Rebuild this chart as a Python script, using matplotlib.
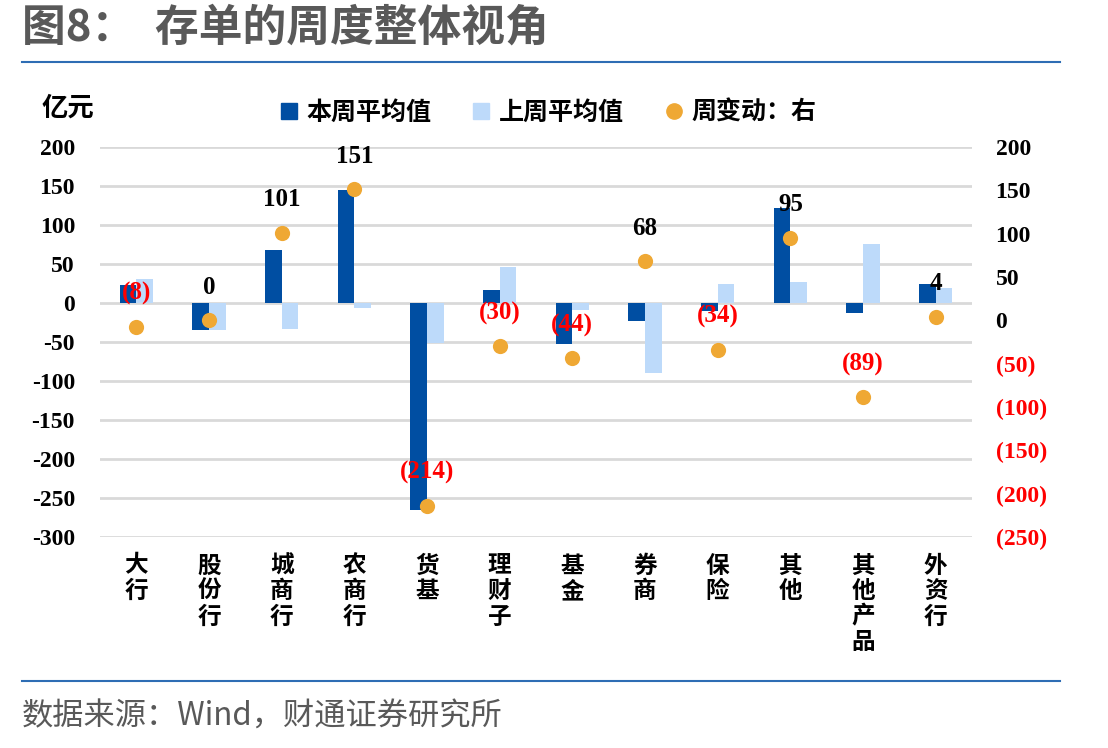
import numpy as np
import matplotlib.pyplot as plt
from matplotlib.lines import Line2D

plt.rcParams['axes.unicode_minus'] = False

# --- dane ---
categories = ["大行", "股份行", "城商行", "农商行", "货基", "理财子",
              "基金", "券商", "保险", "其他", "其他产品", "外资行"]
this_week = [23, -35, 68, 145, -265, 17, -52, -23, -10, 122, -13, 24]
last_week = [31, -34, -33, -6, -51, 46, -9, -90, 24, 27, 76, 19]
weekly_change = [-8, 0, 101, 151, -214, -30, -44, 68, -34, 95, -89, 4]

left_ticks = list(range(-300, 201, 50))
right_ticks = list(range(-250, 201, 50))

# --- kolory / czcionki ---
DARK = "#004EA2"
LIGHT = "#BDDAFA"
ORANGE = "#EFA834"
GRID = "#D9D9D9"
SERIF = "Liberation Serif"
CJK = ["Noto Sans CJK SC", "DejaVu Sans"]


def fmt_num(v):
    return "(%d)" % abs(v) if v < 0 else "%d" % v


fig = plt.figure(figsize=(11.08, 7.48), dpi=100)
ax = fig.add_axes([100 / 1108, 1 - 537 / 748, 872 / 1108, 390 / 748])
ax2 = ax.twinx()

x = np.arange(len(categories))
w = 0.23
ax.bar(x - w / 2, this_week, w, color=DARK, zorder=3)
ax.bar(x + w / 2, last_week, w, color=LIGHT, zorder=3)
ax2.scatter(x, weekly_change, s=120, color=ORANGE, zorder=4, linewidths=0)

for xi, v in zip(x, weekly_change):
    ax2.annotate(fmt_num(v), (xi, v), xytext=(0, 24), textcoords="offset points",
                 ha="center", va="center", fontsize=18, fontweight="bold",
                 family=SERIF, color="red" if v < 0 else "black", zorder=5)

ax.set_xlim(-0.5, len(categories) - 0.5)
ax.set_ylim(-300, 200)
ax2.set_ylim(-250, 200)
ax.set_yticks(left_ticks)
ax.set_yticklabels([str(t) for t in left_ticks], family=SERIF, fontweight="bold", fontsize=17)
ax2.set_yticks(right_ticks)
ax2.set_yticklabels([fmt_num(t) for t in right_ticks], family=SERIF, fontweight="bold", fontsize=17)
for lab, t in zip(ax2.get_yticklabels(), right_ticks):
    lab.set_color("red" if t < 0 else "black")

ax.set_xticks(x)
ax.set_xticklabels(["\n".join(c) for c in categories], family=CJK, fontsize=17,
                   fontweight="bold", va="top", linespacing=1.08)
ax.tick_params(axis="x", length=0, pad=12)
ax.tick_params(axis="y", length=0, pad=18)
ax2.tick_params(axis="y", length=0, pad=17)

ax.grid(axis="y", color=GRID, linewidth=2, zorder=0)
ax.set_axisbelow(True)
for a in (ax, ax2):
    for s in a.spines.values():
        s.set_visible(False)

# legenda
handles = [Line2D([], [], marker="s", linestyle="", color=DARK, markersize=12),
           Line2D([], [], marker="s", linestyle="", color=LIGHT, markersize=12),
           Line2D([], [], marker="o", linestyle="", color=ORANGE, markersize=11)]
fig.legend(handles, ["本周平均值", "上周平均值", "周变动：右"], loc="center",
           bbox_to_anchor=(0.493, 1 - 113 / 748), ncol=3, frameon=False,
           prop={"family": CJK, "size": 18, "weight": "bold"},
           handletextpad=0.2, columnspacing=1.5, handlelength=1.0)

fig.text(42 / 1108, 1 - 108 / 748, "亿元", family=CJK, fontsize=19,
         fontweight="bold", va="center")

# tytuł i źródło
fig.text(22 / 1108, 1 - 28 / 748, "图8：  存单的周度整体视角", family=CJK,
         fontsize=31.5, fontweight="bold", color="#595959", va="center")
fig.add_artist(Line2D([22 / 1108, 1060 / 1108], [1 - 62 / 748] * 2, color="#2E6DB4", linewidth=1.5))
fig.add_artist(Line2D([22 / 1108, 1060 / 1108], [1 - 681 / 748] * 2, color="#2E6DB4", linewidth=1.5))
fig.text(22 / 1108, 1 - 717 / 748, "数据来源：Wind，财通证券研究所", family=CJK,
         fontsize=22.5, color="#595959", va="center")

fig.savefig("out.png", dpi=100)
